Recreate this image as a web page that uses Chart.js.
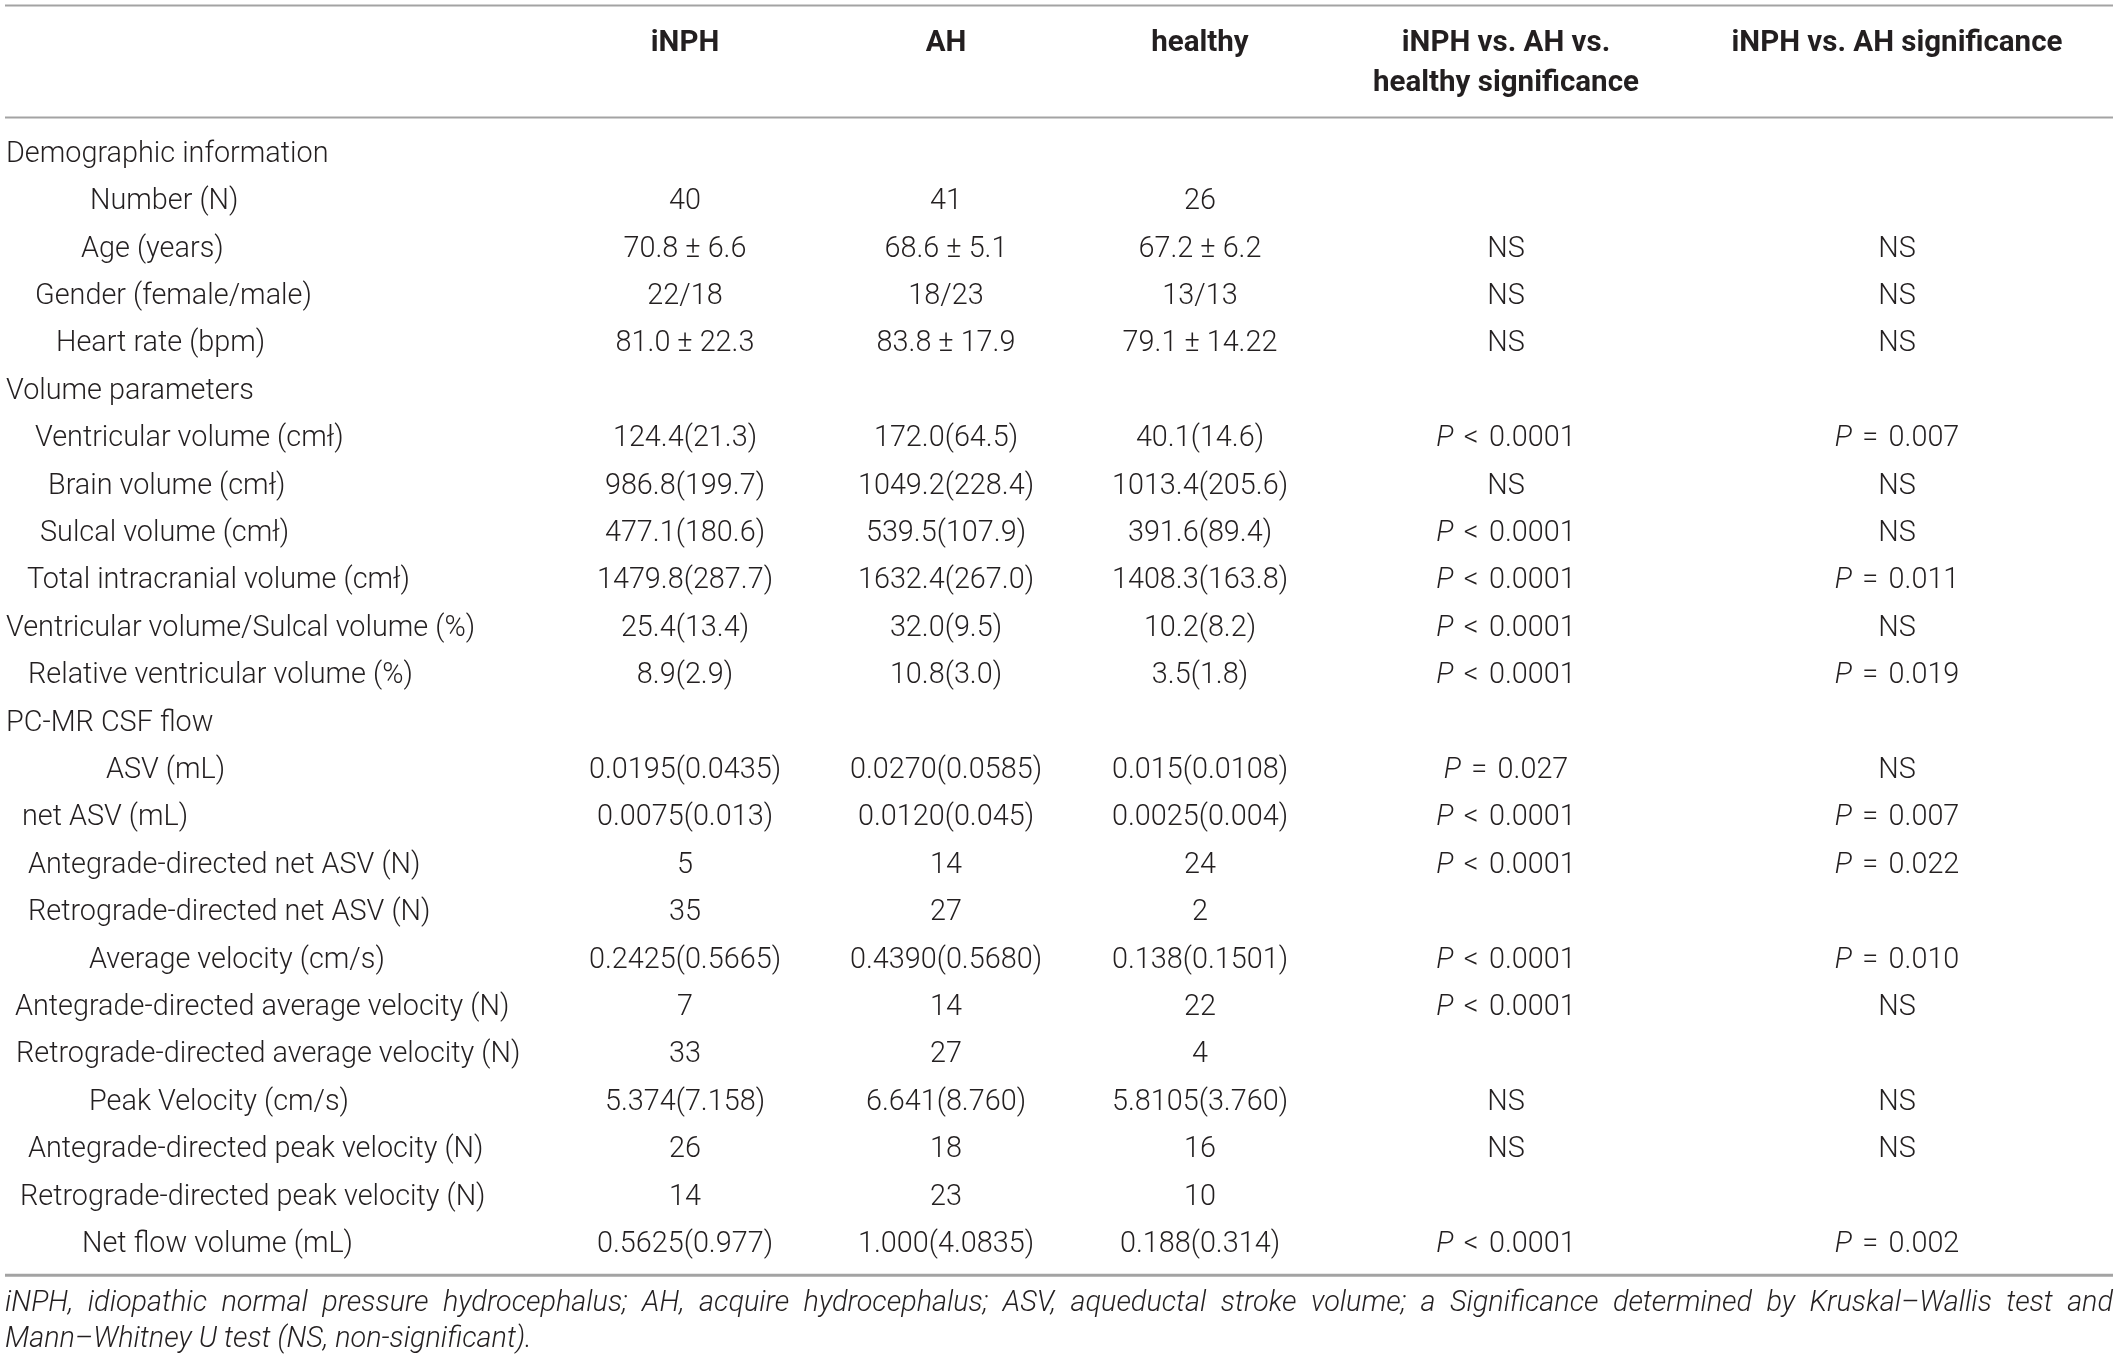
<!DOCTYPE html>
<html>
<head>
<meta charset="utf-8">
<script src="https://cdn.jsdelivr.net/npm/chart.js@4/dist/chart.umd.min.js"></script>
<style>
  html, body { margin: 0; padding: 0; background: #fff; }
  #wrap { width: 2118px; height: 1362px; position: relative; }
</style>
</head>
<body>
<div id="wrap"><canvas id="tbl"></canvas></div>
<script>
// table content
const columnHeaders = ['iNPH', 'AH', 'healthy', 'iNPH vs. AH vs.\nhealthy significance', 'iNPH vs. AH significance'];

const rowLabels = [
  'Demographic information', 'Number (N)', 'Age (years)', 'Gender (female/male)', 'Heart rate (bpm)',
  'Volume parameters', 'Ventricular volume (cmł)', 'Brain volume (cmł)', 'Sulcal volume (cmł)',
  'Total intracranial volume (cmł)', 'Ventricular volume/Sulcal volume (%)', 'Relative ventricular volume (%)',
  'PC-MR CSF flow', 'ASV (mL)', 'net ASV (mL)', 'Antegrade-directed net ASV (N)', 'Retrograde-directed net ASV (N)',
  'Average velocity (cm/s)', 'Antegrade-directed average velocity (N)', 'Retrograde-directed average velocity (N)',
  'Peak Velocity (cm/s)', 'Antegrade-directed peak velocity (N)', 'Retrograde-directed peak velocity (N)',
  'Net flow volume (mL)'
];

const iNPH = ['', '40', '70.8 ± 6.6', '22/18', '81.0 ± 22.3', '', '124.4(21.3)', '986.8(199.7)', '477.1(180.6)',
  '1479.8(287.7)', '25.4(13.4)', '8.9(2.9)', '', '0.0195(0.0435)', '0.0075(0.013)', '5', '35', '0.2425(0.5665)',
  '7', '33', '5.374(7.158)', '26', '14', '0.5625(0.977)'];
const AH = ['', '41', '68.6 ± 5.1', '18/23', '83.8 ± 17.9', '', '172.0(64.5)', '1049.2(228.4)', '539.5(107.9)',
  '1632.4(267.0)', '32.0(9.5)', '10.8(3.0)', '', '0.0270(0.0585)', '0.0120(0.045)', '14', '27', '0.4390(0.5680)',
  '14', '27', '6.641(8.760)', '18', '23', '1.000(4.0835)'];
const healthy = ['', '26', '67.2 ± 6.2', '13/13', '79.1 ± 14.22', '', '40.1(14.6)', '1013.4(205.6)', '391.6(89.4)',
  '1408.3(163.8)', '10.2(8.2)', '3.5(1.8)', '', '0.015(0.0108)', '0.0025(0.004)', '24', '2', '0.138(0.1501)',
  '22', '4', '5.8105(3.760)', '16', '10', '0.188(0.314)'];
const sigAll = ['', '', 'NS', 'NS', 'NS', '', 'P < 0.0001', 'NS', 'P < 0.0001', 'P < 0.0001', 'P < 0.0001',
  'P < 0.0001', '', 'P = 0.027', 'P < 0.0001', 'P < 0.0001', '', 'P < 0.0001', 'P < 0.0001', '', 'NS', 'NS', '',
  'P < 0.0001'];
const sigPair = ['', '', 'NS', 'NS', 'NS', '', 'P = 0.007', 'NS', 'NS', 'P = 0.011', 'NS', 'P = 0.019', '',
  'NS', 'P = 0.007', 'P = 0.022', '', 'P = 0.010', 'NS', '', 'NS', 'NS', '', 'P = 0.002'];

const footnote = ['iNPH, idiopathic normal pressure hydrocephalus; AH, acquire hydrocephalus; ASV, aqueductal stroke volume; a Significance determined by Kruskal–Wallis test and',
  'Mann–Whitney U test (NS, non-significant).'];

// layout (x in page px, y in row units)
const colX = [685, 946, 1200, 1506, 1897];
const labelLeft = [6, 90, 81, 35, 56, 6, 35, 48, 40, 27, 6, 28, 6, 106, 22, 28, 28, 89, 15, 16, 89, 28, 20, 82];
const headerY = [-2.35, -1.49];
const ruleY = [-3.146, -0.783, 23.64];
const noteY = [24.25, 25.0];

const FONT = '"Roboto", "Liberation Sans", sans-serif';
const SIZE = 28.8;
const HEAD_SIZE = 29.5;
const INK = '#231f20';

const columns = [iNPH, AH, healthy, sigAll, sigPair];

function drawCell(ctx, text, x, y, align) {
  const m = /^P ([<=]) (.*)$/.exec(text);
  if (m) {
    // italic P, then operator and value with a little extra room
    const gap = SIZE * 0.36;
    ctx.font = 'italic 300 ' + SIZE + 'px ' + FONT;
    const wP = ctx.measureText('P').width;
    ctx.font = '300 ' + SIZE + 'px ' + FONT;
    const wOp = ctx.measureText(m[1]).width;
    const wNum = ctx.measureText(m[2]).width;
    let x0 = x - (wP + gap + wOp + gap + wNum) / 2;
    ctx.textAlign = 'left';
    ctx.font = 'italic 300 ' + SIZE + 'px ' + FONT;
    ctx.fillText('P', x0, y);
    ctx.font = '300 ' + SIZE + 'px ' + FONT;
    x0 += wP + gap;
    ctx.fillText(m[1], x0, y);
    x0 += wOp + gap;
    ctx.fillText(m[2], x0, y);
    return;
  }
  ctx.font = '300 ' + SIZE + 'px ' + FONT;
  ctx.textAlign = align;
  ctx.fillText(text, x, y);
}

const tablePlugin = {
  id: 'tableText',
  afterDatasetsDraw(chart) {
    const ctx = chart.ctx;
    const xs = chart.scales.x, ys = chart.scales.y;
    ctx.save();
    ctx.fillStyle = INK;
    ctx.textBaseline = 'middle';

    // rules
    ctx.strokeStyle = '#a3a3a3';
    ruleY.forEach((r, i) => {
      const py = ys.getPixelForValue(r);
      ctx.lineWidth = i === 2 ? 3 : 2;
      ctx.beginPath();
      ctx.moveTo(xs.getPixelForValue(5), py);
      ctx.lineTo(xs.getPixelForValue(2113), py);
      ctx.stroke();
    });

    // headers
    ctx.font = 'bold ' + HEAD_SIZE + 'px ' + FONT;
    ctx.textAlign = 'center';
    columnHeaders.forEach((h, c) => {
      h.split('\n').forEach((line, k) => {
        ctx.fillText(line, xs.getPixelForValue(colX[c]), ys.getPixelForValue(headerY[k]));
      });
    });

    // row labels
    const labelMeta = chart.getDatasetMeta(0);
    labelMeta.data.forEach((pt, i) => {
      drawCell(ctx, rowLabels[i], pt.x, pt.y, 'left');
    });

    // values
    for (let c = 0; c < columns.length; c++) {
      const meta = chart.getDatasetMeta(c + 1);
      meta.data.forEach((pt, i) => {
        if (columns[c][i]) drawCell(ctx, columns[c][i], pt.x, pt.y, 'center');
      });
    }

    // footnote, first line justified
    ctx.font = 'italic 300 ' + SIZE + 'px ' + FONT;
    ctx.textAlign = 'left';
    const left = xs.getPixelForValue(5), right = xs.getPixelForValue(2113);
    const words = footnote[0].split(' ');
    const wordsW = words.reduce((s, w) => s + ctx.measureText(w).width, 0);
    const gap = Math.max(ctx.measureText(' ').width * 0.6, (right - left - wordsW) / (words.length - 1));
    let cx = left;
    const py0 = ys.getPixelForValue(noteY[0]);
    words.forEach(w => { ctx.fillText(w, cx, py0); cx += ctx.measureText(w).width + gap; });
    ctx.fillText(footnote[1], left, ys.getPixelForValue(noteY[1]));
    ctx.restore();
  }
};

function build() {
  const datasets = [{
    label: 'labels',
    data: rowLabels.map((_, i) => ({ x: labelLeft[i], y: i })),
    pointRadius: 0
  }].concat(columns.map((col, c) => ({
    label: columnHeaders[c],
    data: col.map((_, i) => ({ x: colX[c], y: i })),
    pointRadius: 0
  })));

  new Chart(document.getElementById('tbl'), {
    type: 'scatter',
    data: { datasets },
    options: {
      responsive: true,
      maintainAspectRatio: false,
      animation: false,
      events: [],
      layout: { padding: 0 },
      plugins: { legend: { display: false }, tooltip: { enabled: false } },
      scales: {
        x: { type: 'linear', min: 0, max: 2118, display: false },
        y: { type: 'linear', min: -3.262, max: 25.47, reverse: true, display: false }
      }
    },
    plugins: [tablePlugin]
  });
}

Promise.all([
  document.fonts.load('300 28px Roboto'),
  document.fonts.load('italic 300 28px Roboto'),
  document.fonts.load('bold 28px Roboto')
]).catch(() => {}).then(build);
</script>
</body>
</html>
